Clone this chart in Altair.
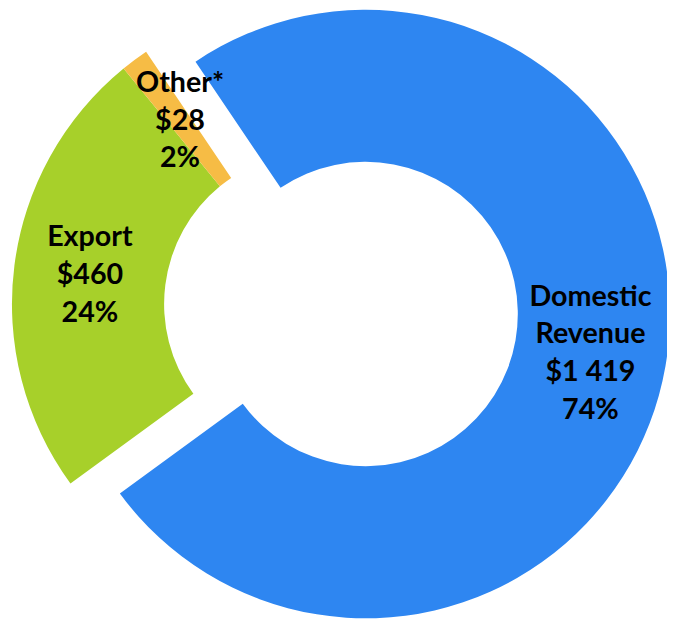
import math
import altair as alt
import pandas as pd

# ---- data ----
categories = ["Domestic Revenue", "Export", "Other*"]
name_lines = [["Domestic", "Revenue"], ["Export"], ["Other*"]]
amounts = [1419, 460, 28]
amount_labels = ["$1 419", "$460", "$28"]
share_labels = ["74%", "24%", "2%"]
slice_order = [0, 1, 2]
colors = ["#2e86f1", "#a7d02a", "#f6bc45"]

labels = ["\n".join(n + [a, s]) for n, a, s in zip(name_lines, amount_labels, share_labels)]
line_counts = [len(n) + 2 for n in name_lines]

df = pd.DataFrame({
    "category": categories,
    "amount": amounts,
    "order": slice_order,
    "label": labels,
})

total = sum(amounts)
start = math.radians(-34)
theta_scale = alt.Scale(domain=[0, total], range=[start, start + 2 * math.pi])
color_scale = alt.Scale(domain=categories, range=colors)

OUTER, INNER, LABEL_R = 308, 154, 231
FONT = "Lato"
LINE_H = 38

base = (
    alt.Chart(df)
    .transform_window(cum="sum(amount)", sort=[alt.SortField("order")], frame=[None, 0])
    .transform_calculate(start="datum.cum - datum.amount", mid="datum.cum - datum.amount / 2")
)


def ring(expr, cx, cy, nlines):
    part = base.transform_filter(expr)
    arcs = part.mark_arc(radius=OUTER, radius2=INNER).encode(
        theta=alt.Theta("start:Q", scale=theta_scale, stack=None),
        theta2="cum:Q",
        color=alt.Color("category:N", scale=color_scale, legend=None),
        x=alt.value(cx),
        y=alt.value(cy),
    )
    texts = part.mark_text(
        radius=LABEL_R,
        font=FONT,
        fontSize=29,
        fontWeight="bold",
        lineBreak="\n",
        lineHeight=LINE_H,
        align="center",
        baseline="middle",
        dy=-(nlines - 1) * LINE_H / 2,
        color="#000000",
    ).encode(
        theta=alt.Theta("mid:Q", scale=theta_scale, stack=None),
        text="label:N",
        x=alt.value(cx),
        y=alt.value(cy),
    )
    return arcs, texts


dom_arc, dom_txt = ring("datum.order == 0", 362, 306, line_counts[0])
rest_arc, rest_txt = ring("datum.order != 0", 312, 296, line_counts[1])

chart = (
    alt.layer(dom_arc, rest_arc, dom_txt, rest_txt)
    .properties(width=667, height=612, autosize=alt.AutoSizeParams(type="none"), padding=0)
    .configure_view(stroke=None)
)

chart.save("out.html", embed_options={"renderer": "svg", "actions": False})
